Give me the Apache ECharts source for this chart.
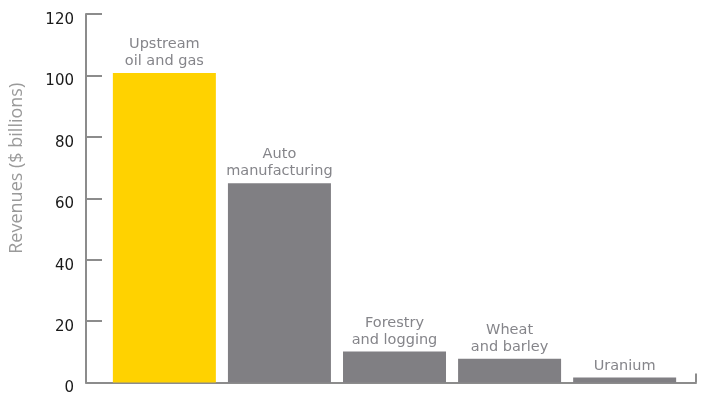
<!DOCTYPE html>
<html>
<head>
<meta charset="utf-8">
<script src="https://cdn.jsdelivr.net/npm/echarts@6/dist/echarts.min.js"></script>
<style>html,body{margin:0;padding:0;background:#fff;}#c{width:702px;height:396px;}</style>
</head>
<body>
<div id="c"></div>
<script>
const categories = ['Upstream\noil and gas', 'Auto\nmanufacturing', 'Forestry\nand logging', 'Wheat\nand barley', 'Uranium'];
const revenues = [100.8, 64.9, 10.1, 7.7, 1.6];
const yTicks = { min: 0, max: 120, interval: 20 };
const axisTitle = 'Revenues ($ billions)';

const chart = echarts.init(document.getElementById('c'), null, { renderer: 'canvas' });
const xMin = -0.681, xMax = 4.62;
chart.setOption({
  animation: false,
  grid: { left: 85, right: 6, top: 14, bottom: 12, containLabel: false },
  xAxis: {
    type: 'value', min: xMin, max: xMax,
    axisLine: { show: true, onZero: false, lineStyle: { color: '#8c8c8c', width: 2 } },
    axisTick: { show: true, inside: true, length: 9, customValues: [xMax], lineStyle: { color: '#8c8c8c', width: 2 } },
    axisLabel: { show: false },
    splitLine: { show: false }
  },
  yAxis: {
    type: 'value', min: yTicks.min, max: yTicks.max, interval: yTicks.interval,
    name: axisTitle, nameLocation: 'middle', nameGap: 60,
    nameTextStyle: { fontFamily: 'Open Sans', fontSize: 18, color: '#9a9a9a', padding: [0, 0, 0, 60] },
    axisLine: { show: true, onZero: false, lineStyle: { color: '#8c8c8c', width: 2 } },
    axisTick: { show: true, inside: true, length: 16, lineStyle: { color: '#8c8c8c', width: 2 } },
    axisLabel: { fontFamily: 'DejaVu Sans', fontSize: 15, color: '#1a1a1a', margin: 12, verticalAlign: 'top', lineHeight: 12 },
    splitLine: { show: false }
  },
  series: [{
    type: 'bar',
    barWidth: 103,
    data: revenues.map((v, i) => [i, v]),
    itemStyle: { color: p => p.dataIndex === 0 ? '#FFD200' : '#807f83' },
    label: {
      show: true, position: 'top', distance: 3,
      formatter: p => categories[p.dataIndex],
      fontFamily: 'DejaVu Sans', fontSize: 14.5, lineHeight: 17, color: '#85858a', align: 'center'
    },
    z: 1
  }]
});
</script>
</body>
</html>
